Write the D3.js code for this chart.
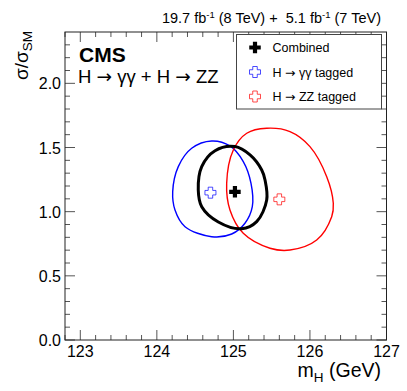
<!DOCTYPE html>
<html>
<head>
<meta charset="utf-8">
<script src="https://cdn.jsdelivr.net/npm/d3@7"></script>
<style>
  body { margin: 0; background: #fff; }
  text { font-family: "Liberation Sans", Arial, sans-serif; fill: #000; }
  .arr { font-family: "DejaVu Sans", sans-serif; }
</style>
</head>
<body>
<svg id="chart" width="407" height="391"></svg>
<script>
// 68% CL contours in (mH, sigma/sigma_SM)
var combinedContour = [
  [125.02, 1.507], [125.217, 1.442], [125.37, 1.325], [125.413, 1.247],
  [125.435, 1.091], [125.304, 0.922], [125.108, 0.867], [124.803, 0.920],
  [124.586, 1.039], [124.541, 1.169], [124.586, 1.351], [124.76, 1.475]
];
var ggContour = [
  [124.716, 1.551], [124.955, 1.512], [125.129, 1.390], [125.23, 1.221],
  [125.247, 1.039], [125.151, 0.910], [124.978, 0.826], [124.716, 0.805],
  [124.368, 0.883], [124.237, 1.013], [124.207, 1.156], [124.28, 1.351],
  [124.455, 1.494]
];
var zzContour = [
  [125.435, 1.650], [125.739, 1.624], [126.0, 1.507], [126.219, 1.273],
  [126.305, 1.065], [126.284, 0.961], [126.088, 0.779], [125.739, 0.701],
  [125.478, 0.715], [125.129, 0.831], [124.955, 1.013], [124.912, 1.221],
  [124.999, 1.481], [125.174, 1.611]
];
var bestFits = [
  { name: 'Combined', mH: 125.02, mu: 1.155 },
  { name: 'gg', mH: 124.70, mu: 1.148 },
  { name: 'zz', mH: 125.60, mu: 1.096 }
];
var legendLabels = [['Combined'], ['H ', '\u2192', ' \u03b3\u03b3 tagged'], ['H ', '\u2192', ' ZZ tagged']];
var xTicks = [123, 124, 125, 126, 127];
var yTicks = [0.0, 0.5, 1.0, 1.5, 2.0];

(function () {
  var svg = d3.select('#chart')
    , L = 65, R = 386.5, T = 32, B = 340
    , x, y, line, styles, g;

  x = d3.scaleLinear().domain([122.8, 127]).range([L, R]);
  y = d3.scaleLinear().domain([0, 2.4]).range([B, T]);

  styles = {
    Combined: { color: '#000', width: 3, filled: true },
    gg: { color: '#0000ff', width: 1.4, filled: false },
    zz: { color: '#ff0000', width: 1.4, filled: false }
  };

  // ticks on all four sides, ROOT style
  g = svg.append('g');
  function tickLines(values, len, isX) {
    values.forEach(function (v) {
      if (isX) {
        g.append('line').attr('x1', x(v)).attr('x2', x(v)).attr('y1', B).attr('y2', B - len);
        g.append('line').attr('x1', x(v)).attr('x2', x(v)).attr('y1', T).attr('y2', T + len);
      } else {
        g.append('line').attr('y1', y(v)).attr('y2', y(v)).attr('x1', L).attr('x2', L + len);
        g.append('line').attr('y1', y(v)).attr('y2', y(v)).attr('x1', R).attr('x2', R - len);
      }
    });
  }
  tickLines(d3.range(122.8, 127.01, 0.2).filter(function (v) { return Math.abs(v - Math.round(v)) > 0.01; }), 5, true);
  tickLines(xTicks, 10, true);
  tickLines(d3.range(0.1, 2.4, 0.1).filter(function (v) { return Math.abs(v * 2 - Math.round(v * 2)) > 0.01; }), 5, false);
  tickLines(yTicks, 10, false);
  g.selectAll('line').attr('stroke', '#555').attr('stroke-width', 1);

  svg.append('rect')
    .attr('x', L).attr('y', T)
    .attr('width', R - L).attr('height', B - T)
    .attr('fill', 'none').attr('stroke', '#222').attr('stroke-width', 1);

  // tick labels
  svg.selectAll('.xl').data(xTicks).enter().append('text')
    .attr('x', function (d) { return x(d); }).attr('y', 357)
    .attr('text-anchor', 'middle').style('font-size', '16px')
    .text(function (d) { return d; });
  svg.selectAll('.yl').data(yTicks).enter().append('text')
    .attr('x', 61).attr('y', function (d) { return y(d) + 6; })
    .attr('text-anchor', 'end').style('font-size', '16px')
    .text(function (d) { return d.toFixed(1); });

  // axis titles
  var xt = svg.append('text').attr('x', 381).attr('y', 377)
    .attr('text-anchor', 'end').style('font-size', '19.5px');
  xt.append('tspan').text('m');
  xt.append('tspan').attr('dy', 5).style('font-size', '13.5px').text('H');
  xt.append('tspan').attr('dy', -5).text('\u00a0(GeV)');

  var yt = svg.append('text').attr('transform', 'translate(28,' + (T - 1) + ') rotate(-90)')
    .attr('text-anchor', 'end').style('font-size', '19px');
  yt.append('tspan').text('\u03c3/\u03c3');
  yt.append('tspan').attr('dy', 4).style('font-size', '13.5px').text('SM');

  // header
  var hd = svg.append('text').attr('x', 381).attr('y', 23)
    .attr('text-anchor', 'end').style('font-size', '14.5px');
  hd.append('tspan').text('19.7 fb');
  hd.append('tspan').attr('dy', -5).style('font-size', '9.5px').text('-1');
  hd.append('tspan').attr('dy', 5).text('\u00a0(8 TeV) +\u00a0\u00a05.1 fb');
  hd.append('tspan').attr('dy', -5).style('font-size', '9.5px').text('-1');
  hd.append('tspan').attr('dy', 5).text('\u00a0(7 TeV)');

  svg.append('text').attr('x', 79).attr('y', 62)
    .style('font-size', '21px').style('font-weight', 'bold').text('CMS');

  function withArrows(sel, parts) {
    parts.forEach(function (p) {
      var t = sel.append('tspan').text(p.replace(/ /g, '\u00a0'));
      if (p === '\u2192') t.attr('class', 'arr');
    });
  }
  withArrows(svg.append('text').attr('x', 78).attr('y', 83).style('font-size', '18.5px'),
    ['H ', '\u2192', ' \u03b3\u03b3 + H ', '\u2192', ' ZZ']);

  // contours
  line = d3.line()
    .x(function (d) { return x(d[0]); })
    .y(function (d) { return y(d[1]); })
    .curve(d3.curveCatmullRomClosed.alpha(0.5));

  [[ggContour, 'gg'], [zzContour, 'zz'], [combinedContour, 'Combined']].forEach(function (c) {
    svg.append('path').attr('d', line(c[0]))
      .attr('fill', 'none')
      .attr('stroke', styles[c[1]].color)
      .attr('stroke-width', styles[c[1]].width);
  });

  // marker: cross shape
  function crossPath(cx, cy, s, w) {
    var a = s / 2, b = w / 2;
    return 'M' + (cx - b) + ',' + (cy - a) + 'H' + (cx + b) + 'V' + (cy - b) + 'H' + (cx + a) +
      'V' + (cy + b) + 'H' + (cx + b) + 'V' + (cy + a) + 'H' + (cx - b) + 'V' + (cy + b) +
      'H' + (cx - a) + 'V' + (cy - b) + 'H' + (cx - b) + 'Z';
  }
  function drawMarker(cx, cy, key) {
    var st = styles[key];
    if (st.filled) {
      svg.append('path').attr('d', crossPath(cx, cy, 11.5, 4.2)).attr('fill', st.color);
    } else {
      svg.append('path').attr('d', crossPath(cx, cy, 11, 4.5))
        .attr('fill', 'none').attr('stroke', st.color).attr('stroke-width', 1).attr('opacity', 0.7);
    }
  }
  bestFits.forEach(function (d) { drawMarker(x(d.mH), y(d.mu), d.name); });

  // legend
  svg.append('rect').attr('x', 236.5).attr('y', 34.5).attr('width', 145).attr('height', 74.5)
    .attr('fill', '#fff').attr('stroke', '#444').attr('stroke-width', 1);
  ['Combined', 'gg', 'zz'].forEach(function (k, i) {
    var ly = 47.5 + i * 24.5;
    drawMarker(255, ly, k);
    withArrows(svg.append('text').attr('x', 272.5).attr('y', ly + 4.5).style('font-size', '12.5px'),
      legendLabels[i]);
  });
})();
</script>
</body>
</html>
